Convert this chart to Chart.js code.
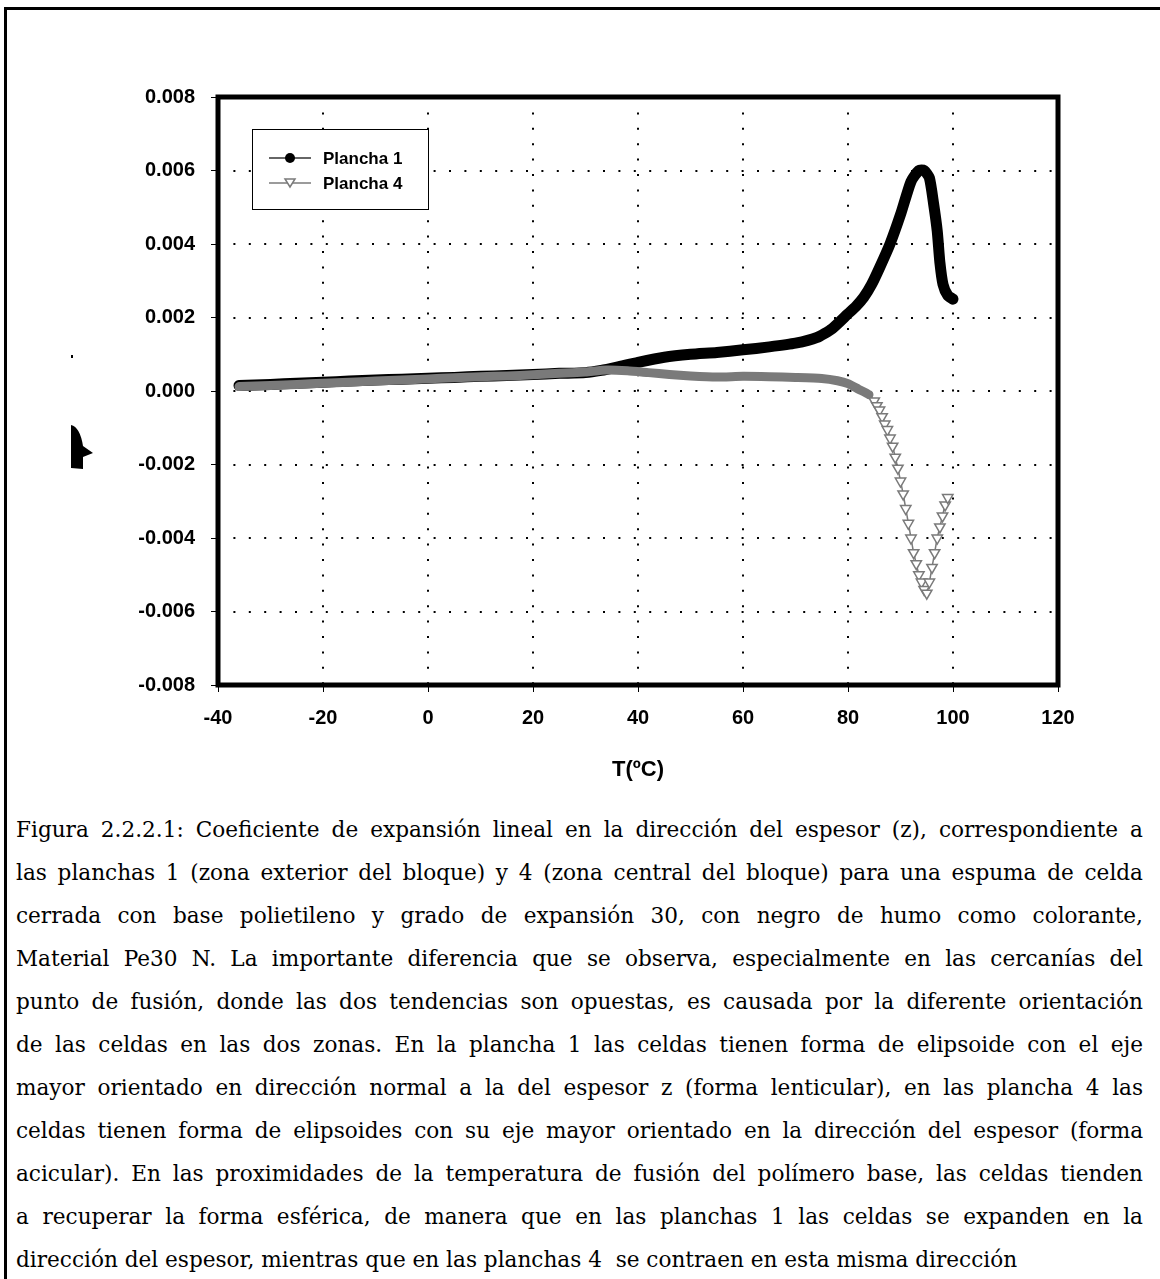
<!DOCTYPE html>
<html>
<head>
<meta charset="utf-8">
<script src="https://cdn.jsdelivr.net/npm/chart.js"></script>
<style>
  body { margin: 0; background: #fff; width: 1160px; height: 1279px; overflow: hidden; position: relative; }
  .page { position: absolute; left: 4px; top: 7px; width: 1300px; height: 1400px; border-top: 3px solid #000; border-left: 3px solid #000; }
  .wrap { position: absolute; left: 0; top: 0; width: 1160px; height: 800px; }
  .caption { position: absolute; left: 16px; top: 808px; width: 1127px; font-family: "DejaVu Serif", serif; font-size: 21.6px; line-height: 43px; color: #000; }
  .caption div { text-align: justify; text-align-last: justify; }
  .caption div.last { text-align-last: left; }
</style>
</head>
<body>
<div class="page"></div>
<div class="wrap"><canvas id="chart" width="1160" height="800"></canvas></div>
<div class="caption">
  <div>Figura 2.2.2.1: Coeficiente de expansión lineal en la dirección del espesor (z), correspondiente a</div>
  <div>las planchas 1 (zona exterior del bloque) y 4 (zona central del bloque) para una espuma de celda</div>
  <div>cerrada con base polietileno y grado de expansión 30, con negro de humo como colorante,</div>
  <div>Material Pe30 N. La importante diferencia que se observa, especialmente en las cercanías del</div>
  <div>punto de fusión, donde las dos tendencias son opuestas, es causada por la diferente orientación</div>
  <div>de las celdas en las dos zonas. En la plancha 1 las celdas tienen forma de elipsoide con el eje</div>
  <div>mayor orientado en dirección normal a la del espesor z (forma lenticular), en las plancha 4 las</div>
  <div>celdas tienen forma de elipsoides con su eje mayor orientado en la dirección del espesor (forma</div>
  <div>acicular). En las proximidades de la temperatura de fusión del polímero base, las celdas tienden</div>
  <div>a recuperar la forma esférica, de manera que en las planchas 1 las celdas se expanden en la</div>
  <div class="last">dirección del espesor, mientras que en las planchas 4&nbsp; se contraen en esta misma dirección</div>
</div>
<script>
const temp1 = [-36, -30, -25, -20, -15, -10, -5, 0, 5, 10, 15, 20, 25, 30, 33, 36, 40, 45, 50, 55, 60, 65, 70, 74, 77, 80, 81.5, 83, 84.5, 86, 88, 90, 92, 93.5, 94.5, 95.5, 96.3, 97, 97.5, 98.1, 99, 100];
const plancha1 = [0.00015, 0.00018, 0.00021, 0.00024, 0.00027, 0.0003, 0.00032, 0.00035, 0.00037, 0.0004, 0.00042, 0.00045, 0.00048, 0.0005, 0.00056, 0.00065, 0.00078, 0.00092, 0.001, 0.00105, 0.00112, 0.0012, 0.0013, 0.00145, 0.0017, 0.0021, 0.0023, 0.00255, 0.0029, 0.00335, 0.004, 0.0048, 0.0057, 0.006, 0.006, 0.0058, 0.0051, 0.00435, 0.0035, 0.0029, 0.0026, 0.0025];

const temp4 = [-36, -30, -25, -20, -15, -10, -5, 0, 5, 10, 15, 20, 25, 30, 34, 38, 42, 46, 50, 55, 60, 65, 70, 75, 78, 80, 82, 84, 85, 85.5, 86, 86.5, 87, 87.5, 88, 88.5, 89, 89.5, 90, 90.5, 91, 91.5, 92, 92.5, 93, 93.5, 94, 94.5, 95, 95.5, 96, 96.5, 97, 97.5, 98, 98.5, 99];
const plancha4 = [0.00012, 0.00015, 0.00018, 0.00021, 0.00024, 0.00027, 0.0003, 0.00033, 0.00036, 0.00039, 0.00041, 0.00044, 0.00048, 0.00052, 0.00057, 0.00055, 0.0005, 0.00045, 0.00041, 0.00038, 0.0004, 0.00039, 0.00037, 0.00034, 0.00028, 0.0002, 0.00005, -0.0001, -0.00027, -0.0004, -0.00052, -0.0007, -0.0009, -0.00105, -0.00128, -0.0015, -0.0018, -0.0021, -0.00245, -0.0028, -0.0032, -0.0036, -0.004, -0.0044, -0.0047, -0.005, -0.0052, -0.0054, -0.0055, -0.0052, -0.0048, -0.0044, -0.004, -0.0037, -0.0034, -0.0031, -0.0029];

const seriesNames = ['Plancha 1', 'Plancha 4'];
const xTicks = [-40, -20, 0, 20, 40, 60, 80, 100, 120];
const yTicks = [-0.008, -0.006, -0.004, -0.002, 0, 0.002, 0.004, 0.006, 0.008];
const xTitle = 'T(ºC)';

const gray = '#7a7a7a';
const steepFrom = 84.5;

// dotted grid, heavy frame, legend box and the odd y-axis glyph
const decor = {
  id: 'decor',
  beforeDatasetsDraw(chart) {
    const { ctx, chartArea: a, scales: { x, y } } = chart;
    ctx.save();
    ctx.strokeStyle = '#000';
    ctx.lineWidth = 2;
    ctx.setLineDash([2, 13.4]);
    xTicks.slice(1, -1).forEach(v => {
      const px = Math.round(x.getPixelForValue(v));
      ctx.beginPath(); ctx.moveTo(px, a.top); ctx.lineTo(px, a.bottom); ctx.stroke();
    });
    yTicks.slice(1, -1).forEach(v => {
      const py = Math.round(y.getPixelForValue(v));
      ctx.beginPath(); ctx.moveTo(a.left, py); ctx.lineTo(a.right, py); ctx.stroke();
    });
    ctx.restore();
  },
  afterDatasetsDraw(chart) {
    const { ctx, chartArea: a } = chart;
    ctx.save();
    ctx.strokeStyle = '#000';
    ctx.lineWidth = 5;
    ctx.strokeRect(a.left, a.top, a.right - a.left, a.bottom - a.top);
    ctx.restore();
  },
  afterDraw(chart) {
    const { ctx, chartArea: a } = chart;
    ctx.save();
    // x title
    ctx.fillStyle = '#000';
    ctx.font = 'bold 22px "Liberation Sans", Arial, sans-serif';
    ctx.textAlign = 'center';
    ctx.textBaseline = 'middle';
    ctx.fillText(xTitle, (a.left + a.right) / 2, 770);

    // legend
    const bx = 252, by = 129, bw = 176, bh = 80;
    ctx.fillStyle = '#fff';
    ctx.fillRect(bx, by, bw, bh);
    ctx.strokeStyle = '#000';
    ctx.lineWidth = 1;
    ctx.strokeRect(bx + 0.5, by + 0.5, bw, bh);
    const rows = [158, 183];
    chart.data.datasets.forEach((ds, i) => {
      const ly = rows[i];
      ctx.strokeStyle = i === 0 ? '#333' : gray;
      ctx.lineWidth = 1.5;
      ctx.beginPath(); ctx.moveTo(269, ly); ctx.lineTo(311, ly); ctx.stroke();
      if (i === 0) {
        ctx.fillStyle = '#000';
        ctx.beginPath(); ctx.arc(290, ly, 5, 0, Math.PI * 2); ctx.fill();
      } else {
        ctx.fillStyle = '#fff';
        ctx.strokeStyle = gray;
        ctx.beginPath(); ctx.moveTo(285, ly - 4); ctx.lineTo(295, ly - 4); ctx.lineTo(290, ly + 4); ctx.closePath();
        ctx.fill(); ctx.stroke();
      }
      ctx.fillStyle = '#000';
      ctx.font = 'bold 17px "Liberation Sans", Arial, sans-serif';
      ctx.textAlign = 'left';
      ctx.fillText(ds.label, 323, ly + 1);
    });

    // y-axis title (renders as a symbol blob in the source)
    ctx.fillStyle = '#000';
    ctx.fillRect(71, 355, 2, 3);
    ctx.beginPath();
    ctx.moveTo(71, 425);
    ctx.quadraticCurveTo(80, 427, 83, 446);
    ctx.lineTo(93, 453);
    ctx.lineTo(83, 457);
    ctx.lineTo(83, 469);
    ctx.lineTo(71, 468);
    ctx.closePath();
    ctx.fill();
    ctx.restore();
  }
};

const tickFont = { family: '"Liberation Sans", Arial, sans-serif', size: 20, weight: 'bold' };

new Chart(document.getElementById('chart'), {
  type: 'scatter',
  data: {
    datasets: [
      {
        label: seriesNames[0],
        data: temp1.map((t, i) => ({ x: t, y: plancha1[i] })),
        showLine: true,
        borderColor: '#000',
        backgroundColor: '#000',
        borderWidth: 11,
        borderCapStyle: 'round',
        borderJoinStyle: 'round',
        tension: 0.2,
        pointRadius: 0,
        order: 1,
      },
      {
        label: seriesNames[1],
        data: temp4.map((t, i) => ({ x: t, y: plancha4[i] })),
        showLine: true,
        borderColor: gray,
        borderWidth: 9,
        borderCapStyle: 'round',
        borderJoinStyle: 'round',
        tension: 0.2,
        segment: {
          borderWidth: (c) => (c.p1.parsed.x > steepFrom ? 1.5 : 9),
        },
        pointStyle: 'triangle',
        rotation: 180,
        pointRadius: (c) => (c.raw && c.raw.x > steepFrom ? 6 : 0),
        pointBackgroundColor: '#fff',
        pointBorderColor: gray,
        pointBorderWidth: 1.5,
        order: 0,
      },
    ],
  },
  options: {
    responsive: false,
    animation: false,
    layout: { padding: { top: 97, right: 102, left: 0, bottom: 0 } },
    plugins: {
      legend: { display: false },
      tooltip: { enabled: false },
    },
    scales: {
      x: {
        type: 'linear',
        min: -40,
        max: 120,
        afterFit: (s) => { s.height = 115; },
        afterBuildTicks: (s) => { s.ticks = xTicks.map(v => ({ value: v })); },
        ticks: { color: '#000', font: tickFont, padding: 14 },
        grid: { drawOnChartArea: false, drawTicks: true, tickLength: 7, color: '#000', lineWidth: 1 },
        border: { display: false },
      },
      y: {
        min: -0.008,
        max: 0.008,
        afterFit: (s) => { s.width = 218; },
        afterBuildTicks: (s) => { s.ticks = yTicks.map(v => ({ value: v })); },
        ticks: {
          color: '#000',
          font: tickFont,
          padding: 16,
          callback: (v) => (Math.abs(v) < 1e-9 ? '0.000' : v.toFixed(3)),
        },
        grid: { drawOnChartArea: false, drawTicks: true, tickLength: 7, color: '#000', lineWidth: 1 },
        border: { display: false },
      },
    },
  },
  plugins: [decor],
});
</script>
</body>
</html>
